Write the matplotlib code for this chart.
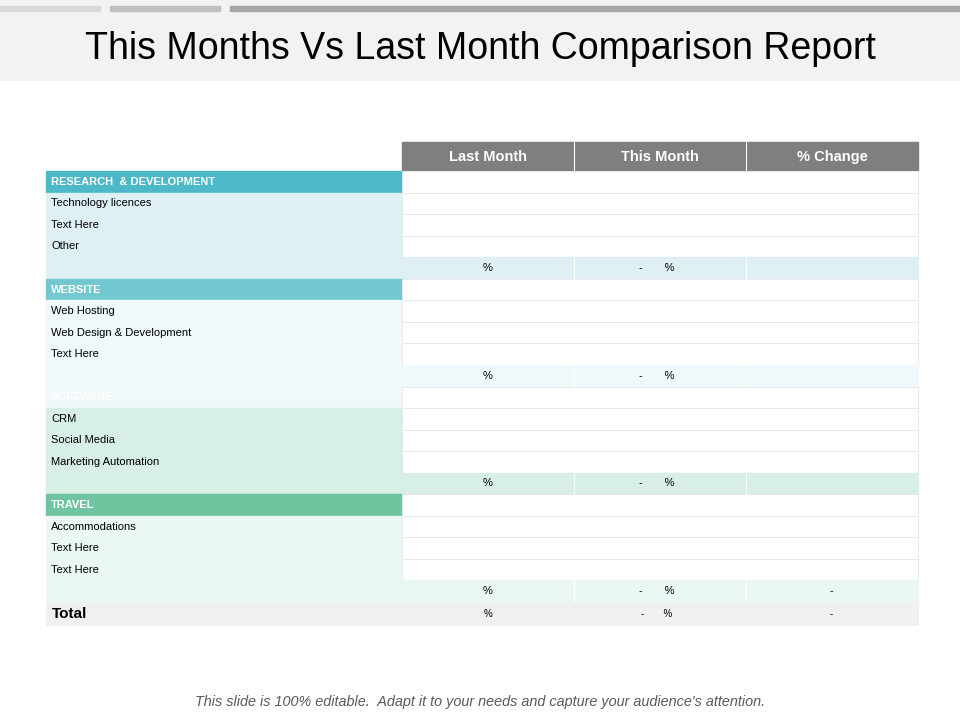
import matplotlib
matplotlib.use("Agg")
import matplotlib.pyplot as plt
from matplotlib.patches import Rectangle

title = "This Months Vs Last Month Comparison Report"
columns = ["Last Month", "This Month", "% Change"]
groups = ["RESEARCH  & DEVELOPMENT", "WEBSITE", "SOFTWARE", "TRAVEL"]
group_items = [["Technology licences", "Text Here", "Other"],
               ["Web Hosting", "Web Design & Development", "Text Here"],
               ["CRM", "Social Media", "Marketing Automation"],
               ["Accommodations", "Text Here", "Text Here"]]
summary_last = ["%", "%", "%", "%"]
summary_this = ["-       %", "-       %", "-       %", "-       %"]
summary_change = ["", "", "", "-"]
total_row = ["Total", "%", "-       %", "-"]
footer = "This slide is 100% editable.  Adapt it to your needs and capture your audience's attention."

head_colors = ["#4DB8C8", "#72C7D0", "#F0F8FA", "#6FC5A0"]
light_colors = ["#DFF0F5", "#EFF8FB", "#D8EFE6", "#EAF7F3"]

fig = plt.figure(figsize=(9.6, 7.2), dpi=100)
ax = fig.add_axes([0, 0, 1, 1])
ax.set_xlim(0, 960); ax.set_ylim(720, 0); ax.axis("off")

ax.add_patch(Rectangle((0, 0), 960, 80, color="#F2F2F2"))
for x0, x1, c in [(0, 100, "#D9D9D9"), (110, 220, "#BFBFBF"), (230, 960, "#A6A6A6")]:
    ax.add_patch(Rectangle((x0, 6), x1 - x0, 5, color=c))
ax.text(480, 45, title, ha="center", va="center_baseline", fontsize=27, family="Liberation Sans")

cx = [402, 574, 746, 918]
ax.add_patch(Rectangle((402, 142), 516, 28, color="#7F7F7F"))
for i, c in enumerate(columns):
    ax.text((cx[i] + cx[i + 1]) / 2, 157, c, ha="center", va="center", color="white",
            fontsize=10.5, weight="bold", family="Liberation Sans")
for x in cx[1:3]:
    ax.plot([x, x], [142, 170], color="white", lw=0.8)

rh = 21.55
y = 171
L, R = 46, 402
for g, name in enumerate(groups):
    ax.add_patch(Rectangle((L, y), R - L, rh, color=head_colors[g]))
    ax.text(L + 5, y + rh / 2, name, va="center", color="white", fontsize=8, weight="bold", family="Liberation Sans")
    ax.add_patch(Rectangle((R, y), 516, rh, facecolor="white", edgecolor="#E8E8E8", lw=0.6))
    y += rh
    for it in group_items[g]:
        ax.add_patch(Rectangle((L, y), R - L, rh, color=light_colors[g]))
        ax.text(L + 5, y + rh / 2, it, va="center", fontsize=8, family="Liberation Sans")
        ax.add_patch(Rectangle((R, y), 516, rh, facecolor="white", edgecolor="#E8E8E8", lw=0.6))
        y += rh
    ax.add_patch(Rectangle((L, y), 872, rh, color=light_colors[g]))
    for x in cx[1:3]:
        ax.plot([x, x], [y, y + rh], color="white", lw=0.8)
    ax.text(488, y + rh / 2, summary_last[g], ha="center", va="center", fontsize=8, family="Liberation Sans")
    ax.text(657, y + rh / 2, summary_this[g], ha="center", va="center", fontsize=8, family="Liberation Sans")
    ax.text(831, y + rh / 2, summary_change[g], ha="center", va="center", fontsize=8, family="Liberation Sans")
    y += rh

for x in cx[1:3]:
    ax.plot([x, x], [171, y], color="#EDEDED", lw=0.6, zorder=0.5)

ax.add_patch(Rectangle((L, y), 872, 23, color="#F0F0F0"))
ax.text(L + 6, y + 12, total_row[0], va="center", fontsize=11, weight="bold", family="Liberation Sans")
ax.text(488, y + 12, total_row[1], ha="center", va="center", fontsize=7, family="Liberation Sans")
ax.text(657, y + 12, total_row[2], ha="center", va="center", fontsize=7, family="Liberation Sans")
ax.text(831, y + 12, total_row[3], ha="center", va="center", fontsize=7, family="Liberation Sans")

ax.text(480, 702, footer, ha="center", va="center", fontsize=10.4, style="italic", color="#595959", family="Liberation Sans")

fig.savefig("out.png", dpi=100)
